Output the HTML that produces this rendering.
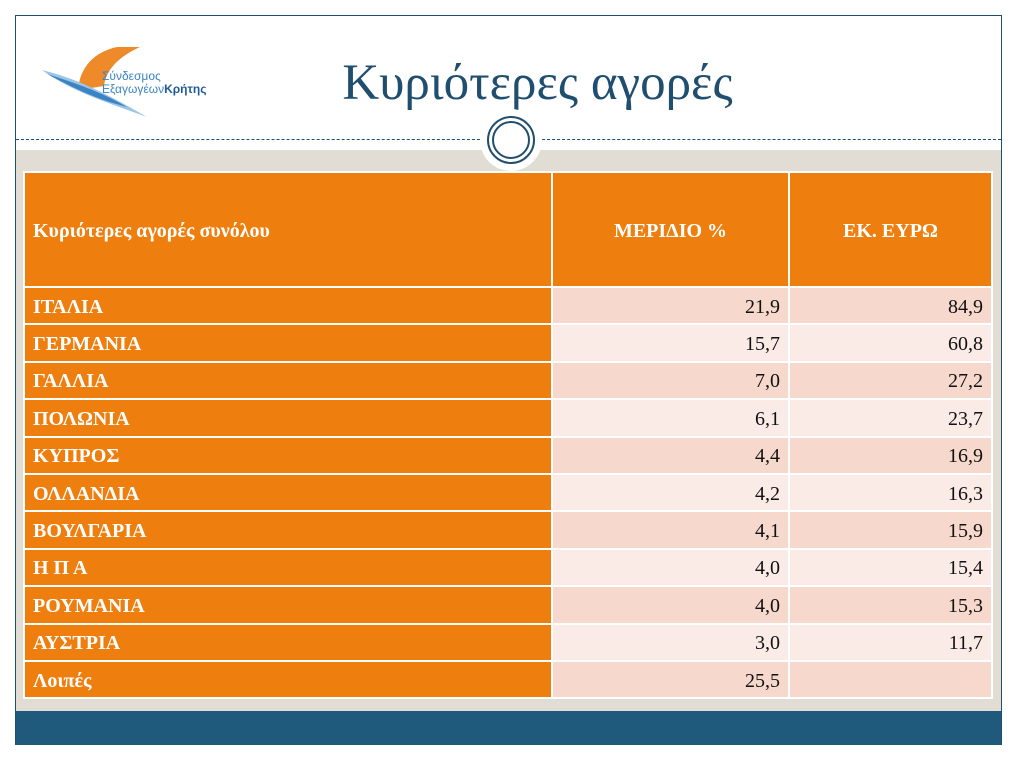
<!DOCTYPE html>
<html><head><meta charset="utf-8"><style>
body{margin:0;width:1019px;height:762px;background:#fff;position:relative;overflow:hidden;font-family:"Liberation Serif","DejaVu Serif",serif}
.frame{position:absolute;left:15px;top:15px;width:987px;height:730px;border:1px solid #1f4e6e;box-sizing:border-box;background:#fff}
.gray{position:absolute;left:16px;top:150px;width:985px;height:561px;background:#e2ddd4}
.blue{position:absolute;left:16px;top:711px;width:985px;height:34px;background:#1f5a7c}
.dash{position:absolute;left:16px;top:139px;width:985px;border-top:1px dashed #1f4e6e}
.title{position:absolute;left:0;width:1019px;text-align:center;top:54px;font-size:51px;color:#1f4e6e;padding-left:56px;box-sizing:border-box}
table{position:absolute;left:23px;top:171px;border-collapse:collapse;font-size:20px}
td{border:2px solid #fff;padding:3px 8px 0;height:32.4px;color:#111}
td.n{font-weight:bold;background:#ee7f0f;color:#fff;width:510px}
td.v{text-align:right;width:219px}
td.w{text-align:right;width:185px}
tr.a td.v,tr.a td.w{background:#f7d8cc}
tr.b td.v,tr.b td.w{background:#fbebe6}
th{background:#ee7f0f;color:#fff;border:2px solid #fff;height:108px;font-size:20px;font-weight:bold;padding-top:4px}
</style></head><body>
<div class="frame"></div>
<div class="gray"></div>
<div class="blue"></div>
<div class="dash"></div>
<svg style="position:absolute;left:42px;top:42px" width="190" height="85">
<path d="M75 5 C52 10,38 25,36 48 L62 44 C64 27,78 14,98 5 Z" fill="#ef8a2a"/>
<path d="M0 28 C30 50,70 62,105 75 C70 55,40 38,0 28 Z" fill="#9cc4e4"/>
<path d="M5 32 C30 45,50 56,85 65 C60 50,30 40,5 32Z" fill="#3a84c4"/>
<text x="60" y="38" font-family="Liberation Sans,sans-serif" font-size="12" fill="#3a84c4">Σύνδεσμος</text>
<text x="60" y="51" font-family="Liberation Sans,sans-serif" font-size="12" fill="#3a84c4">Εξαγωγέων<tspan font-weight="bold" fill="#1f5a9c">Κρήτης</tspan></text>
</svg>
<div class="title">Κυριότερες αγορές</div>
<svg style="position:absolute;left:478px;top:108px" width="66" height="66">
<circle cx="33" cy="32" r="31" fill="#fff"/>
<circle cx="33" cy="32" r="23" fill="none" stroke="#1f4e6e" stroke-width="2"/>
<circle cx="33" cy="32" r="18" fill="none" stroke="#1f4e6e" stroke-width="2"/>
</svg>
<table>
<tr><th style="text-align:left;padding-left:8px;width:510px">Κυριότερες αγορές συνόλου</th><th style="width:219px">ΜΕΡΙΔΙΟ %</th><th style="width:185px">ΕΚ. ΕΥΡΩ</th></tr>
<tr class="a"><td class="n">ΙΤΑΛΙΑ</td><td class="v">21,9</td><td class="w">84,9</td></tr>
<tr class="b"><td class="n">ΓΕΡΜΑΝΙΑ</td><td class="v">15,7</td><td class="w">60,8</td></tr>
<tr class="a"><td class="n">ΓΑΛΛΙΑ</td><td class="v">7,0</td><td class="w">27,2</td></tr>
<tr class="b"><td class="n">ΠΟΛΩΝΙΑ</td><td class="v">6,1</td><td class="w">23,7</td></tr>
<tr class="a"><td class="n">ΚΥΠΡΟΣ</td><td class="v">4,4</td><td class="w">16,9</td></tr>
<tr class="b"><td class="n">ΟΛΛΑΝΔΙΑ</td><td class="v">4,2</td><td class="w">16,3</td></tr>
<tr class="a"><td class="n">ΒΟΥΛΓΑΡΙΑ</td><td class="v">4,1</td><td class="w">15,9</td></tr>
<tr class="b"><td class="n">Η Π Α</td><td class="v">4,0</td><td class="w">15,4</td></tr>
<tr class="a"><td class="n">ΡΟΥΜΑΝΙΑ</td><td class="v">4,0</td><td class="w">15,3</td></tr>
<tr class="b"><td class="n">ΑΥΣΤΡΙΑ</td><td class="v">3,0</td><td class="w">11,7</td></tr>
<tr class="a"><td class="n">Λοιπές</td><td class="v">25,5</td><td class="w"></td></tr>
</table>
</body></html>
